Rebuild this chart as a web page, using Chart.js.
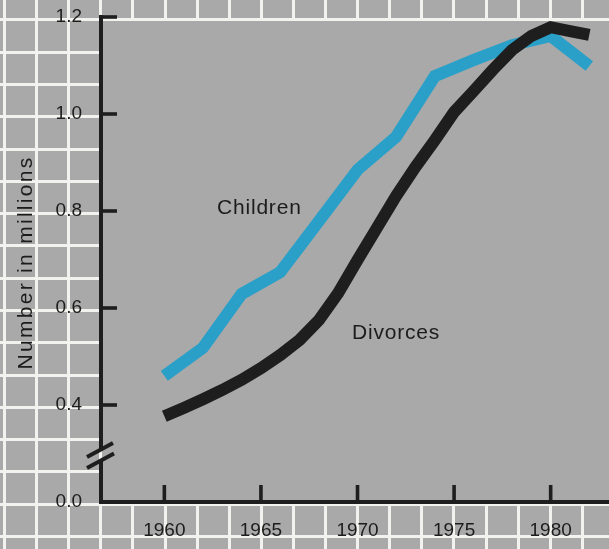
<!DOCTYPE html>
<html>
<head>
<meta charset="utf-8">
<script src="https://cdn.jsdelivr.net/npm/chart.js@4.4.1/dist/chart.umd.min.js"></script>
<style>
html,body{margin:0;padding:0;background:#a9a9a9;overflow:hidden}
canvas{display:block}
</style>
</head>
<body>
<canvas id="c" width="609" height="549"></canvas>
<script>
// ---- data ----
const childYears  = [1960, 1962, 1964, 1966, 1968, 1970, 1972, 1974, 1976, 1978, 1980, 1982];
const childValues = [0.460, 0.518, 0.629, 0.674, 0.779, 0.885, 0.953, 1.078, 1.111, 1.142, 1.161, 1.099];

const divorceYears  = [1960, 1961, 1962, 1963, 1964, 1965, 1966, 1967, 1968, 1969, 1970, 1971,
                       1972, 1973, 1974, 1975, 1976, 1977, 1978, 1979, 1980, 1981, 1982];
const divorceValues = [0.377, 0.394, 0.412, 0.431, 0.452, 0.476, 0.503, 0.534, 0.575, 0.631, 0.699, 0.765,
                       0.831, 0.891, 0.946, 1.004, 1.047, 1.091, 1.132, 1.161, 1.179, 1.171, 1.163];

const xTickValues = [1960, 1965, 1970, 1975, 1980];
// axis is broken: the "0.0" tick sits one step below 0.4
const yTickValues = [0.2, 0.4, 0.6, 0.8, 1.0, 1.2];
const yTickLabels = ['0.0', '0.4', '0.6', '0.8', '1.0', '1.2'];
const seriesNames = ['Children', 'Divorces'];
const yAxisTitle = 'Number in millions';

// ---- styles ----
const GRAY = '#a9a9a9';
const WHITE = '#f2f2ee';
const INK = '#1e1e1e';
const TEXT = '#1c1c1c';
const BLUE = '#2aa0c8';
const FONT = '"Liberation Sans", Arial, Helvetica, sans-serif';

const backdrop = {
  id: 'backdrop',
  beforeDraw(chart) {
    const ctx = chart.ctx, W = chart.width, H = chart.height, a = chart.chartArea;
    ctx.save();
    ctx.fillStyle = GRAY;
    ctx.fillRect(0, 0, W, H);
    ctx.strokeStyle = WHITE;
    ctx.lineWidth = 3;
    for (let k = 0; 4 + 32.1 * k < W + 2; k++) {
      const x = Math.round(4 + 32.1 * k) + 0.5;
      ctx.beginPath(); ctx.moveTo(x, 0); ctx.lineTo(x, H); ctx.stroke();
    }
    for (let k = -1; 19.3 + 32.3 * k < H + 2; k++) {
      const y = Math.round(19.3 + 32.3 * k) + 0.5;
      ctx.beginPath(); ctx.moveTo(0, y); ctx.lineTo(W, y); ctx.stroke();
    }
    ctx.fillStyle = GRAY;
    ctx.fillRect(a.left + 2, a.top + 4, W - a.left - 2, a.bottom - a.top - 6);
    ctx.restore();
  }
};

const frame = {
  id: 'frame',
  afterDraw(chart) {
    const ctx = chart.ctx, a = chart.chartArea;
    const xs = chart.scales.x, ys = chart.scales.y;
    ctx.save();
    ctx.strokeStyle = INK;
    ctx.lineCap = 'butt';
    // y axis with break
    const yBreakTop = 450, yBreakBot = 461;
    ctx.lineWidth = 4;
    ctx.beginPath();
    ctx.moveTo(a.left, a.top - 2); ctx.lineTo(a.left, yBreakTop);
    ctx.moveTo(a.left, yBreakBot); ctx.lineTo(a.left, a.bottom + 2);
    ctx.stroke();
    // x axis
    ctx.beginPath();
    ctx.moveTo(a.left - 2, a.bottom); ctx.lineTo(chart.width, a.bottom);
    ctx.stroke();
    // y ticks (inward)
    ctx.lineWidth = 3.6;
    yTickValues.forEach(v => {
      if (v === yTickValues[0]) return;
      const py = ys.getPixelForValue(v);
      ctx.beginPath(); ctx.moveTo(a.left, py); ctx.lineTo(a.left + 16, py); ctx.stroke();
    });
    // x ticks (inward)
    xTickValues.forEach(v => {
      const px = xs.getPixelForValue(v);
      ctx.beginPath(); ctx.moveTo(px, a.bottom); ctx.lineTo(px, a.bottom - 17); ctx.stroke();
    });
    // break marks
    ctx.lineWidth = 4;
    ctx.beginPath();
    ctx.moveTo(a.left - 14, 457); ctx.lineTo(a.left + 12, 443);
    ctx.moveTo(a.left - 14, 468); ctx.lineTo(a.left + 13, 453.5);
    ctx.stroke();

    // series labels
    ctx.fillStyle = TEXT;
    ctx.font = '21px ' + FONT;
    ctx.textAlign = 'left';
    ctx.textBaseline = 'alphabetic';
    ctx.letterSpacing = '0.8px';
    ctx.fillText(seriesNames[0], 217, 214);
    ctx.fillText(seriesNames[1], 352, 339);

    // y axis title
    ctx.letterSpacing = '2.3px';
    ctx.font = '21px ' + FONT;
    ctx.translate(26, (a.top + a.bottom) / 2 + 3);
    ctx.rotate(-Math.PI / 2);
    ctx.textAlign = 'center';
    ctx.textBaseline = 'middle';
    ctx.fillText(yAxisTitle, 0, 0);
    ctx.restore();
  }
};

new Chart(document.getElementById('c'), {
  type: 'line',
  data: {
    datasets: [
      {
        label: seriesNames[1],
        data: divorceYears.map((x, i) => ({ x, y: divorceValues[i] })),
        borderColor: INK,
        borderWidth: 12,
        borderJoinStyle: 'miter',
        borderCapStyle: 'butt',
        pointRadius: 0,
        tension: 0,
        fill: false,
        clip: false
      },
      {
        label: seriesNames[0],
        data: childYears.map((x, i) => ({ x, y: childValues[i] })),
        borderColor: BLUE,
        borderWidth: 12,
        borderJoinStyle: 'miter',
        borderCapStyle: 'butt',
        pointRadius: 0,
        tension: 0,
        fill: false,
        clip: false
      }
    ]
  },
  options: {
    responsive: false,
    animation: false,
    devicePixelRatio: 1,
    layout: { padding: { top: 17, left: 0, right: 0, bottom: 0 } },
    plugins: { legend: { display: false }, tooltip: { enabled: false }, title: { display: false } },
    scales: {
      x: {
        type: 'linear',
        position: 'bottom',
        min: 1956.72,
        max: 1983.02,
        afterFit(s) { s.height = 47; s.paddingLeft = 0; s.paddingRight = 0; },
        afterBuildTicks(s) { s.ticks = xTickValues.map(v => ({ value: v })); },
        grid: { display: false, drawTicks: false },
        border: { display: false },
        ticks: {
          padding: 17,
          color: TEXT,
          font: { family: FONT, size: 19 },
          maxRotation: 0,
          autoSkip: false,
          callback: v => String(v)
        }
      },
      y: {
        type: 'linear',
        position: 'left',
        min: 0.2,
        max: 1.2,
        afterFit(s) { s.width = 101; s.paddingTop = 0; s.paddingBottom = 0; },
        afterBuildTicks(s) { s.ticks = yTickValues.map(v => ({ value: v })); },
        grid: { display: false, drawTicks: false },
        border: { display: false },
        ticks: {
          padding: 19,
          color: TEXT,
          font: { family: FONT, size: 19 },
          autoSkip: false,
          callback: (v, i) => yTickLabels[i]
        }
      }
    }
  },
  plugins: [backdrop, frame]
});
</script>
</body>
</html>
